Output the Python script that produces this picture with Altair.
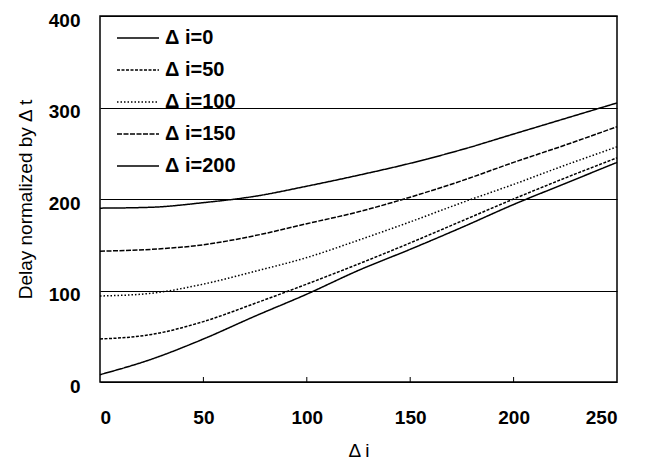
import altair as alt
import pandas as pd

xs = [0, 25, 50, 75, 100, 125, 150, 175, 200, 225, 250]
d0 = [8, 25, 47, 72, 96, 122, 145, 169, 194, 217, 240]
d50 = [47, 52, 66, 86, 107, 129, 152, 176, 200, 223, 245]
d100 = [94, 97, 107, 121, 136, 155, 175, 196, 216, 237, 257]
d150 = [143, 145, 150, 160, 173, 186, 202, 220, 240, 259, 279]
d200 = [190, 191, 196, 203, 214, 226, 239, 254, 271, 288, 305]
series_names = ["Δ i=0", "Δ i=50", "Δ i=100", "Δ i=150", "Δ i=200"]
series_vals = [d0, d50, d100, d150, d200]
x_ticks = [0, 50, 100, 150, 200, 250]
y_ticks = [0, 100, 200, 300, 400]
inner_ticks = [50, 100, 150, 200]

rows = []
for name, vals in zip(series_names, series_vals):
    for x, v in zip(xs, vals):
        rows.append({"x": x, "y": v, "series": name})
df = pd.DataFrame(rows)

W, H = 517, 366
FONT = "Liberation Sans"

xscale = alt.Scale(domain=[0, 250], nice=False, zero=False)
yscale = alt.Scale(domain=[0, 400], nice=False)

lines = alt.Chart(df).mark_line(color="black", strokeWidth=1.5, interpolate="monotone").encode(
    x=alt.X("x:Q", scale=xscale, title="Δ i",
            axis=alt.Axis(values=x_ticks, grid=False, ticks=False, domain=False,
                          labelPadding=26, titlePadding=14)),
    y=alt.Y("y:Q", scale=yscale, title="Delay normalized by  Δ t",
            axis=alt.Axis(values=y_ticks, grid=True, gridColor="black", gridOpacity=1,
                          gridWidth=1, ticks=False, domain=False, labelPadding=20,
                          labelOffset=4, titlePadding=13)),
    strokeDash=alt.StrokeDash("series:N",
        scale=alt.Scale(domain=series_names,
                        range=[[1, 0], [3, 1.5], [1.5, 2], [5, 1.5], [1, 0]]),
        legend=alt.Legend(title=None, orient="none", legendX=16, legendY=0,
                          symbolType="stroke", symbolSize=1764, symbolStrokeWidth=1.4,
                          symbolStrokeColor="black", labelFont=FONT, labelFontSize=20,
                          labelFontWeight="bold", labelColor="black", labelOffset=5,
                          rowPadding=0, fillColor="transparent")),
    order=alt.Order("x:Q"),
)

ticks_df = pd.DataFrame({"t": inner_ticks})
inner = alt.Chart(ticks_df).mark_rule(color="black", strokeWidth=1).encode(
    x=alt.X("t:Q", scale=xscale),
    y=alt.value(H),
    y2=alt.value(H - 5),
)

chart = alt.layer(lines, inner).properties(
    width=W, height=H,
    autosize=alt.AutoSizeParams(type="none"),
    padding={"left": 92, "top": 8, "right": 20, "bottom": 82},
).configure(
    background="white"
).configure_view(
    stroke="black", strokeWidth=1.5
).configure_axis(
    labelFont=FONT, labelFontSize=19, labelFontWeight="bold", labelColor="black",
    titleFont=FONT, titleFontSize=19, titleFontWeight="normal", titleColor="black",
)

chart.save("out.html", embed_options={"renderer": "svg", "actions": False})
